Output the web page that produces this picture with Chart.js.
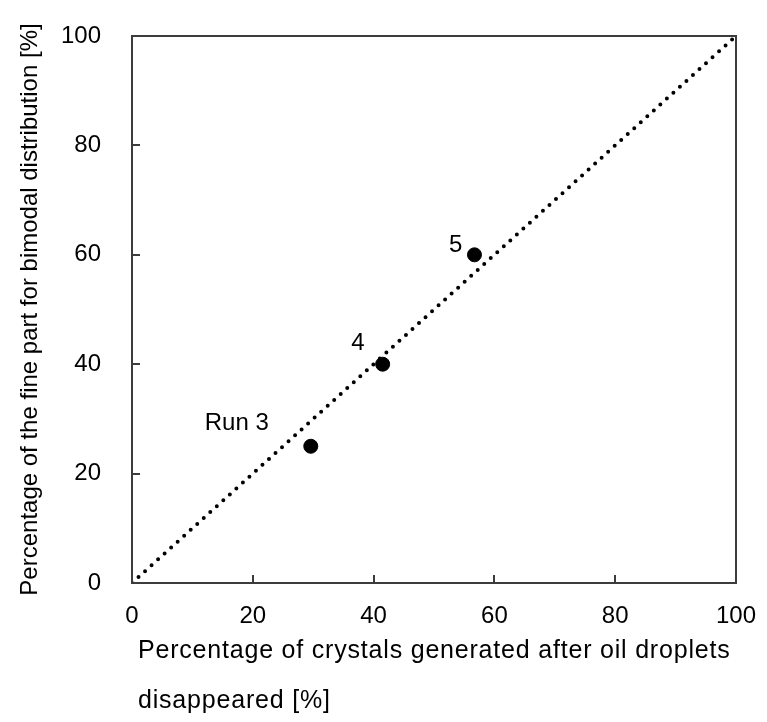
<!DOCTYPE html>
<html>
<head>
<meta charset="utf-8">
<script src="https://cdn.jsdelivr.net/npm/chart.js@4"></script>
<style>
  html, body { margin: 0; padding: 0; background: #ffffff; }
  #wrap { width: 767px; height: 722px; }
</style>
</head>
<body>
<div id="wrap"><canvas id="c" width="767" height="722"></canvas></div>
<script>
// Runs and their measured shares
const runLabels = ['Run 3', '4', '5'];
const crystalsAfterDroplets = [29.6, 41.5, 56.7];   // x, %
const finePartShare = [25, 40, 60];                 // y, %

// 1:1 reference line
const parityX = [0, 100];
const parityY = [0, 100];

// Axis ranges / ticks
const axisMin = 0;
const axisMax = 100;
const tickStep = 20;

const xTitleLines = ['Percentage of crystals generated after oil droplets', 'disappeared [%]'];
const yTitle = 'Percentage of the fine part for bimodal distribution [%]';

// label placement relative to each marker (right edge / vertical centre)
const labelOffsets = [[-42, -23], [-18, -21], [-12, -9]];

const FONT = "'Liberation Sans', Arial, sans-serif";
const AXIS_COLOR = '#3c3c3c';

const boxAndTicks = {
  id: 'boxAndTicks',
  afterDatasetsDraw(chart) {
    const { ctx, chartArea: a, scales: { x, y } } = chart;
    ctx.save();
    ctx.strokeStyle = AXIS_COLOR;
    ctx.lineWidth = 2;
    ctx.beginPath();
    // top and right frame
    ctx.moveTo(a.left, a.top);
    ctx.lineTo(a.right, a.top);
    ctx.lineTo(a.right, a.bottom);
    // inward tick marks
    const len = 8;
    x.ticks.forEach(t => {
      const px = Math.round(x.getPixelForValue(t.value));
      ctx.moveTo(px, a.bottom);
      ctx.lineTo(px, a.bottom - len);
    });
    y.ticks.forEach(t => {
      const py = Math.round(y.getPixelForValue(t.value));
      ctx.moveTo(a.left, py);
      ctx.lineTo(a.left + len, py);
    });
    ctx.stroke();

    // run labels next to the markers
    const meta = chart.getDatasetMeta(1);
    ctx.fillStyle = '#000';
    ctx.font = '24px ' + FONT;
    ctx.textAlign = 'right';
    ctx.textBaseline = 'middle';
    meta.data.forEach((pt, i) => {
      const [dx, dy] = labelOffsets[i];
      ctx.fillText(runLabels[i], pt.x + dx, pt.y + dy);
    });

    // x-axis title, two left-aligned lines
    ctx.textAlign = 'left';
    ctx.font = '25px ' + FONT;
    if ('letterSpacing' in ctx) ctx.letterSpacing = '0.8px';
    xTitleLines.forEach((line, i) => {
      ctx.fillText(line, a.left + 6, a.bottom + 68 + i * 50);
    });
    ctx.restore();
  }
};

new Chart(document.getElementById('c'), {
  type: 'scatter',
  data: {
    datasets: [
      {
        label: '1:1',
        data: parityX.map((v, i) => ({ x: v, y: parityY[i] })),
        showLine: true,
        borderColor: '#000',
        borderWidth: 4,
        borderDash: [0, 8.8],
        borderCapStyle: 'round',
        pointRadius: 0,
        fill: false
      },
      {
        label: 'Runs',
        data: crystalsAfterDroplets.map((v, i) => ({ x: v, y: finePartShare[i] })),
        backgroundColor: '#000',
        borderColor: '#000',
        pointRadius: 7,
        pointHoverRadius: 7
      }
    ]
  },
  options: {
    responsive: false,
    animation: false,
    events: [],
    layout: { padding: { top: 36, right: 31, bottom: 0, left: 0 } },
    plugins: { legend: { display: false }, tooltip: { enabled: false } },
    scales: {
      x: {
        type: 'linear',
        min: axisMin, max: axisMax,
        ticks: { stepSize: tickStep, color: '#000', font: { family: FONT, size: 24 }, padding: 19, maxRotation: 0 },
        grid: { display: false, drawTicks: false },
        border: { display: true, color: AXIS_COLOR, width: 2 },
        afterFit(scale) {
          scale.height = 139;
          scale.paddingLeft = 0;
          scale.paddingRight = 0;
        }
      },
      y: {
        type: 'linear',
        min: axisMin, max: axisMax,
        ticks: { stepSize: tickStep, color: '#000', font: { family: FONT, size: 24 }, padding: 31 },
        grid: { display: false, drawTicks: false },
        border: { display: true, color: AXIS_COLOR, width: 2 },
        title: {
          display: true,
          text: yTitle,
          color: '#000',
          font: { family: FONT, size: 24 },
          padding: { top: 16, bottom: 0 }
        },
        afterFit(scale) {
          scale.width = 132;
          scale.paddingTop = 0;
          scale.paddingBottom = 0;
        }
      }
    }
  },
  plugins: [boxAndTicks]
});
</script>
</body>
</html>
